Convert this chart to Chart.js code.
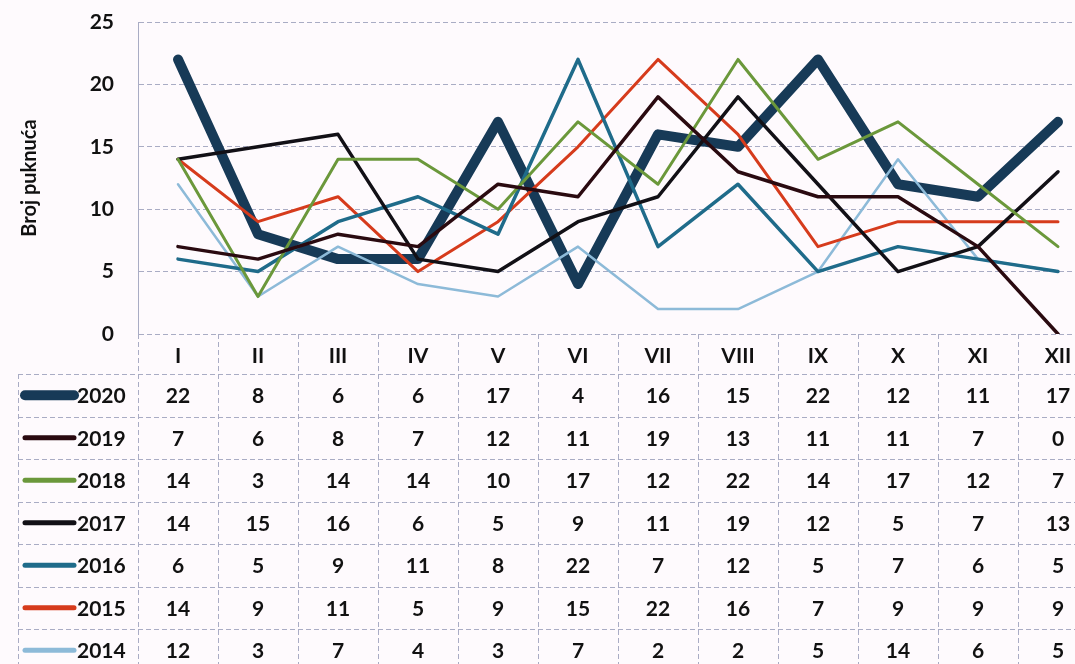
<!DOCTYPE html>
<html>
<head>
<meta charset="utf-8">
<script src="https://cdn.jsdelivr.net/npm/chart.js@4.4.1/dist/chart.umd.min.js"></script>
<style>
  html, body { margin: 0; padding: 0; overflow: hidden; background: #fefafd; }
  #wrap { width: 1075px; height: 664px; overflow: hidden; }
</style>
</head>
<body>
<div id="wrap"><canvas id="chart" width="1100" height="664"></canvas></div>
<script>
// months (roman numerals) and series, top row of the table first
var months = ['I', 'II', 'III', 'IV', 'V', 'VI', 'VII', 'VIII', 'IX', 'X', 'XI', 'XII'];
var years = ['2020', '2019', '2018', '2017', '2016', '2015', '2014'];

var y2020 = [22, 8, 6, 6, 17, 4, 16, 15, 22, 12, 11, 17];
var y2019 = [7, 6, 8, 7, 12, 11, 19, 13, 11, 11, 7, 0];
var y2018 = [14, 3, 14, 14, 10, 17, 12, 22, 14, 17, 12, 7];
var y2017 = [14, 15, 16, 6, 5, 9, 11, 19, 12, 5, 7, 13];
var y2016 = [6, 5, 9, 11, 8, 22, 7, 12, 5, 7, 6, 5];
var y2015 = [14, 9, 11, 5, 9, 15, 22, 16, 7, 9, 9, 9];
var y2014 = [12, 3, 7, 4, 3, 7, 2, 2, 5, 14, 6, 5];

var yTicks = [0, 5, 10, 15, 20, 25];

var series = [y2020, y2019, y2018, y2017, y2016, y2015, y2014];
var colors = ['#173a57', '#2a0a10', '#6b983b', '#121016', '#1f6b8a', '#d63b1c', '#8dbad8'];
var widths = [10, 3.5, 3, 3.5, 3.5, 3, 2.5];

var FONT = 'Lato, "Open Sans", sans-serif';
var gridColor = '#a9acc4';

var datasets = series.map(function(d, i) {
    return {
        label: years[i],
        data: d,
        borderColor: colors[i],
        backgroundColor: colors[i],
        borderWidth: widths[i],
        pointRadius: 0,
        tension: 0,
        borderCapStyle: 'round',
        borderJoinStyle: 'round',
        order: i === 0 ? 20 : i
    };
});

// data table under the plot, columns follow the x scale
var tablePlugin = {
    id: 'dataTable',
    afterDraw: function(chart) {
        var ctx = chart.ctx;
        var xs = chart.scales.x;
        var area = chart.chartArea;
        var colW = xs.getPixelForValue(1) - xs.getPixelForValue(0);
        var headTop = area.bottom;
        var headBottom = headTop + 40;
        var rowH = 42.5;
        var legLeft = 18;
        var bottom = 664;

        ctx.save();
        ctx.strokeStyle = gridColor;
        ctx.lineWidth = 1;
        ctx.setLineDash([5, 3]);

        // vertical cell borders
        for (var c = 0; c <= months.length; c++) {
            var vx = Math.round(area.left + c * colW) + 0.5;
            ctx.beginPath();
            ctx.moveTo(vx, headTop);
            ctx.lineTo(vx, bottom);
            ctx.stroke();
        }
        ctx.beginPath();
        ctx.moveTo(legLeft + 0.5, headBottom);
        ctx.lineTo(legLeft + 0.5, bottom);
        ctx.stroke();

        // horizontal cell borders
        for (var r = 0; r <= years.length; r++) {
            var hy = Math.round(headBottom + r * rowH) + 0.5;
            ctx.beginPath();
            ctx.moveTo(legLeft, hy);
            ctx.lineTo(area.right, hy);
            ctx.stroke();
        }
        ctx.setLineDash([]);

        ctx.fillStyle = '#111';
        ctx.textAlign = 'center';
        ctx.textBaseline = 'middle';
        ctx.font = 'bold 21px ' + FONT;
        months.forEach(function(m, i) {
            ctx.fillText(m, xs.getPixelForValue(i), (headTop + headBottom) / 2 + 2);
        });

        series.forEach(function(d, r) {
            var cy = headBottom + r * rowH + rowH / 2 + 1;
            d.forEach(function(v, i) {
                ctx.fillText(String(v), xs.getPixelForValue(i), cy);
            });
            // legend key
            ctx.strokeStyle = colors[r];
            ctx.lineWidth = r === 0 ? 10 : 5;
            ctx.lineCap = 'round';
            ctx.beginPath();
            ctx.moveTo(25, cy - 1);
            ctx.lineTo(74, cy - 1);
            ctx.stroke();
            ctx.textAlign = 'left';
            ctx.fillText(years[r], 77, cy);
            ctx.textAlign = 'center';
        });
        ctx.restore();
    }
};

var ctx = document.getElementById('chart').getContext('2d');
var chart = new Chart(ctx, {
    type: 'line',
    data: { labels: months, datasets: datasets },
    options: {
        responsive: false,
        animation: false,
        devicePixelRatio: 1,
        layout: { padding: { top: 22, right: 2, bottom: 322, left: 0 } },
        plugins: {
            legend: { display: false },
            tooltip: { enabled: false }
        },
        scales: {
            x: {
                offset: true,
                grid: { display: false },
                border: { display: false },
                ticks: { display: false }
            },
            y: {
                min: 0,
                max: 25,
                afterBuildTicks: function(scale) {
                    scale.ticks = yTicks.map(function(v) { return { value: v }; });
                },
                afterFit: function(scale) {
                    scale.width = 138;
                    scale.paddingTop = 0;
                    scale.paddingBottom = 0;
                },
                grid: { color: gridColor, lineWidth: 1, drawTicks: false },
                border: { display: true, color: gridColor, dash: [5, 3] },
                ticks: {
                    color: '#111',
                    padding: 24,
                    font: { family: FONT, size: 21, weight: 'bold' }
                },
                title: {
                    display: true,
                    text: 'Broj puknuća',
                    color: '#111',
                    padding: { top: 18, bottom: 0 },
                    font: { family: FONT, size: 20, weight: 'bold' }
                }
            }
        }
    },
    plugins: [tablePlugin]
});
</script>
</body>
</html>
